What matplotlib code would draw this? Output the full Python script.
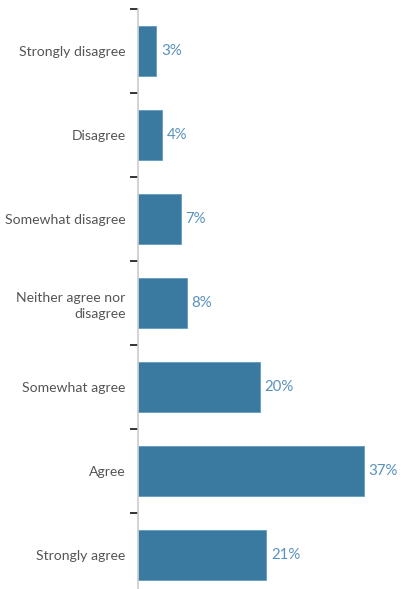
import matplotlib

matplotlib.use("Agg")
import matplotlib.pyplot as plt
from matplotlib.ticker import FixedLocator

categories = [
    "Strongly disagree",
    "Disagree",
    "Somewhat disagree",
    "Neither agree nor\ndisagree",
    "Somewhat agree",
    "Agree",
    "Strongly agree",
]
values = [3, 4, 7, 8, 20, 37, 21]

BAR = "#3a7aa0"
VAL = "#5a92bd"
LABEL = "#555555"

plt.rcParams["font.family"] = ["Lato", "DejaVu Sans"]

fig = plt.figure(figsize=(4.02, 5.89), dpi=100)
ax = fig.add_axes([138 / 402, 0, 1 - 138 / 402, 1 - 9 / 589])

pos = list(range(len(categories)))
ax.barh(pos, values, height=0.6, color=BAR, edgecolor="#5e9cc2", linewidth=0.6)

for y, v in zip(pos, values):
    ax.text(v + 0.8, y, f"{v}%", va="center", ha="left", fontsize=10.8, color=VAL)

ax.set_ylim(6.405, -0.5)
ax.set_xlim(0, 43.3)

ax.set_yticks(pos)
ax.set_yticklabels(categories, fontsize=10.1, color=LABEL, ha="right",
                   multialignment="right", linespacing=1.45)
ax.tick_params(axis="y", which="major", length=0, pad=9)
ax.yaxis.set_minor_locator(FixedLocator([i - 0.5 for i in pos]))
ax.tick_params(axis="y", which="minor", length=6, width=1.4, color="#333333", direction="out")
ax.set_xticks([])

for s in ("top", "right", "bottom"):
    ax.spines[s].set_visible(False)
ax.spines["left"].set_color("#cccccc")
ax.spines["left"].set_linewidth(1.2)

fig.savefig("out.png", dpi=100, facecolor="white")
